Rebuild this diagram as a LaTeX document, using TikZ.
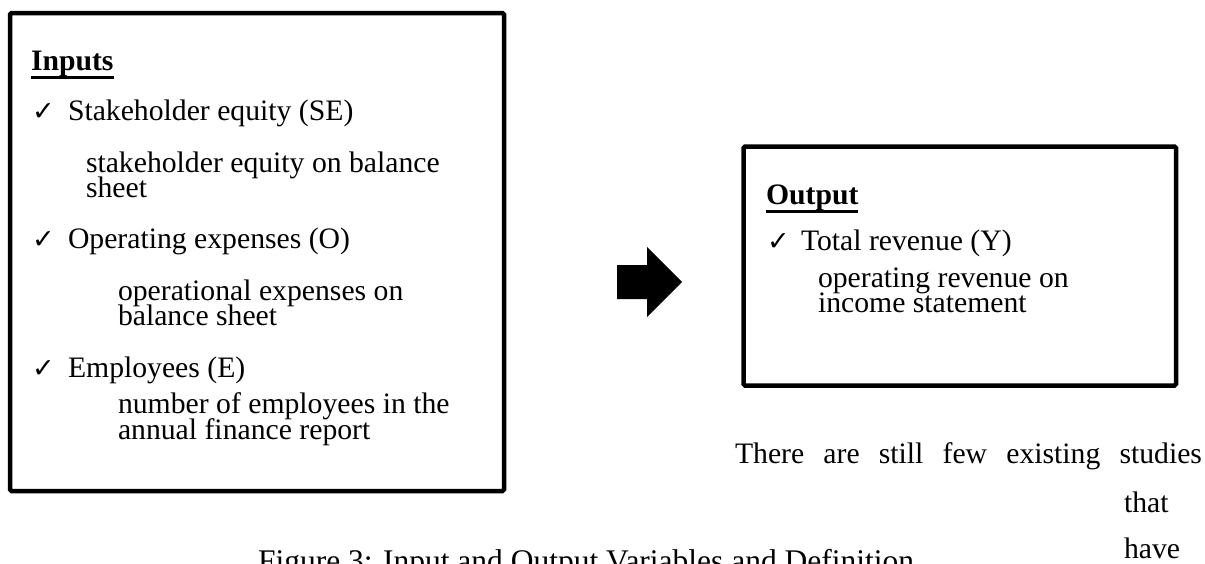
\documentclass[tikz,border=0pt]{standalone}
\usepackage{fontspec}
\setmainfont{Liberation Serif}
\newfontfamily\symf{DejaVu Sans}
\tikzset{
  txt/.style={anchor=base west, inner sep=0pt, outer sep=0pt, font=\fontsize{29.7}{30}\selectfont},
  chk/.style={anchor=base west, inner sep=0pt, outer sep=0pt, font=\symf\bfseries\fontsize{27}{28}\selectfont},
  frame/.style={draw=black, line width=4.5pt, rounded corners=1.5pt, inner sep=0pt, fill=none},
  uline/.style={line width=2.6pt},
  blockarrow/.style={fill=black, draw=none}
}
\begin{document}
\begin{tikzpicture}[x=1pt, y=-1pt]
\useasboundingbox (0,0) rectangle (1205,563);
% boxes
\node[frame, minimum width=494pt, minimum height=478pt] (inbox) at (257,252) {};
\node[frame, minimum width=432.5pt, minimum height=239pt] (outbox) at (959.75,266) {};
% inputs
\node[txt] (inh) at (31,70) {\textbf{Inputs}};
\draw[uline] ([yshift=-7.5pt]inh.base west) -- ([yshift=-7.5pt]inh.base east);
\node[chk] (c1) at (32,120) {✓};
\node[txt] (i1) at (68,120) {Stakeholder equity (SE)};
\node[txt] (d1a) at (86,172) {stakeholder equity on balance};
\node[txt] (d1b) at (86,197) {sheet};
\node[chk] (c2) at (32,248) {✓};
\node[txt] (i2) at (68,248) {Operating expenses (O)};
\node[txt] (d2a) at (118,300) {operational expenses on};
\node[txt] (d2b) at (118,325) {balance sheet};
\node[chk] (c3) at (32,377) {✓};
\node[txt] (i3) at (68,377) {Employees (E)};
\node[txt] (d3a) at (118,413) {number of employees in the};
\node[txt] (d3b) at (118,439) {annual finance report};
% output
\node[txt] (outh) at (766,204) {\textbf{Output}};
\draw[uline] ([yshift=-7.5pt]outh.base west) -- ([yshift=-7.5pt]outh.base east);
\node[chk] (c4) at (767,250) {✓};
\node[txt] (o1) at (801,250) {Total revenue (Y)};
\node[txt] (d4a) at (818,287) {operating revenue on};
\node[txt] (d4b) at (818,312) {income statement};
% arrow
\fill[blockarrow] (617,265) -- (647,265) -- (647,247) -- (682,282) -- (647,317) -- (647,299) -- (617,299) -- cycle;
% body text
\node[txt] (p1) at (735,463) {\hbox to 467pt{There\hfil are\hfil still\hfil few\hfil existing\hfil studies}};
\node[txt] (p2) at (1124,512) {that};
\node[txt] (p3) at (1124,558) {have};
% caption
\node[txt, font=\fontsize{31.5}{32}\selectfont] (cap) at (258,571) {Figure 3: Input and Output Variables and Definition};
\end{tikzpicture}
\end{document}
